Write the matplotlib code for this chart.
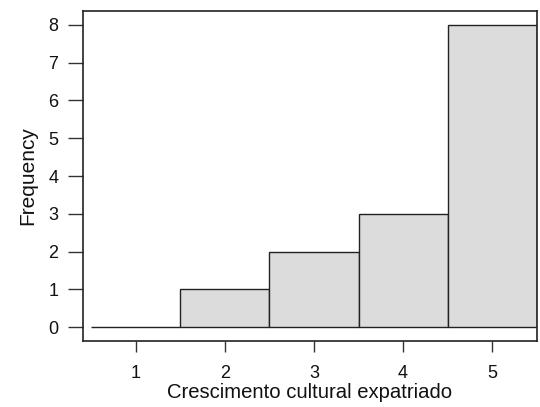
import matplotlib
matplotlib.use("Agg")
import matplotlib.pyplot as plt

niveaux = [1, 2, 3, 4, 5]
effectifs = [0, 1, 2, 3, 8]
ticks_y = [0, 1, 2, 3, 4, 5, 6, 7, 8]

plt.rcParams['font.family'] = ['Liberation Sans', 'DejaVu Sans']

fig = plt.figure(figsize=(5.4, 4.07), dpi=100)
ax = fig.add_axes([0.154, 0.162, 0.840, 0.811])

ax.bar(niveaux, effectifs, width=1.0, color='#dcdcdc', edgecolor='#222222', linewidth=1.0)

ax.set_xlim(0.41, 5.5)
ax.set_ylim(-0.37, 8.37)
ax.set_xticks(niveaux)
ax.set_yticks(ticks_y)
ax.tick_params(axis='y', length=11, width=1, colors='#333333', labelcolor='#111111', labelsize=13, pad=7)
ax.tick_params(axis='x', length=8, width=1, colors='#333333', labelcolor='#111111', labelsize=13, pad=9)
for s in ax.spines.values():
    s.set_linewidth(1.2)
    s.set_color('#222222')

ax.set_xlabel("Crescimento cultural expatriado", fontsize=14.6, labelpad=1, color='#111111')
ax.set_ylabel("Frequency", fontsize=15, labelpad=8, color='#111111')

fig.savefig("out.png", dpi=100)
